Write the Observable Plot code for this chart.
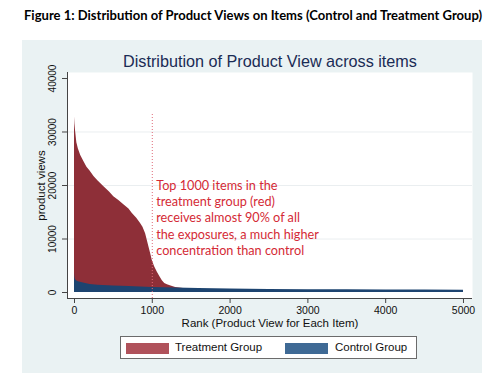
<!DOCTYPE html>
<html>
<head>
<meta charset="utf-8">
<script src="https://cdn.jsdelivr.net/npm/d3@7"></script>
<script src="https://cdn.jsdelivr.net/npm/@observablehq/plot@0.6"></script>
<style>
  body { margin: 0; background: #ffffff; }
  #wrap { position: relative; width: 499px; height: 385px; overflow: hidden; }
  #figtitle { position: absolute; left: 0; top: 0; }
  #panel { position: absolute; left: 22px; top: 40px; width: 460px; height: 333px; background: #eaf2f3; }
  #chart { position: absolute; left: 0; top: 0; }
  #legend { position: absolute; left: 98px; top: 296px; width: 297px; height: 23px; background: #ffffff;
            border: 1px solid #6b6b6b; box-sizing: border-box; font-family: "Liberation Sans", Arial, sans-serif; font-size: 11.5px; color: #111; }
  .sw { position: absolute; top: 6px; width: 43px; height: 11px; }
  .lt { position: absolute; top: 3px; line-height: 15px; white-space: nowrap; }
</style>
</head>
<body>
<div id="wrap">
  <svg id="figtitle" width="499" height="30">
    <text x="24" y="20" textLength="458" lengthAdjust="spacingAndGlyphs"
      style="font-family: Lato, 'Open Sans', sans-serif; font-weight: 700; font-size: 13.5px; fill: #000;">Figure 1: Distribution of Product Views on Items (Control and Treatment Group)</text>
  </svg>
  <div id="panel">
    <div id="chart"></div>
    <div id="legend">
      <div class="sw" style="left:5px;background:#b0525b"></div>
      <div class="lt" style="left:54px">Treatment Group</div>
      <div class="sw" style="left:164px;background:#3f6a95"></div>
      <div class="lt" style="left:214px">Control Group</div>
    </div>
  </div>
</div>
<script>
// Data
const treatRanks = [0, 5, 15, 30, 50, 80, 120, 160, 200, 250, 300, 375, 450, 505, 570, 634, 700, 741, 800, 849, 880, 914, 940, 957, 980, 1000, 1030, 1065, 1100, 1129, 1160, 1194, 1250, 1300, 1400, 1500, 1700, 2000, 3000, 4000, 5000];
const treatViews = [32800, 31500, 30000, 28000, 26800, 25600, 24500, 23400, 22700, 21700, 20900, 19800, 18800, 17900, 17200, 16400, 15600, 14800, 13900, 12900, 12200, 11000, 9500, 8500, 7200, 6000, 4800, 3800, 2900, 2200, 1700, 1450, 1150, 950, 750, 600, 480, 400, 320, 280, 250];
const ctrlRanks = [0, 3, 10, 25, 50, 100, 200, 300, 500, 700, 1000, 1300, 1600, 2000, 2500, 3000, 3500, 4000, 4500, 5000];
const ctrlViews = [3600, 3000, 2500, 2200, 2000, 1800, 1500, 1350, 1200, 1100, 950, 850, 750, 650, 580, 530, 500, 470, 450, 430];
const xTicks = [0, 1000, 2000, 3000, 4000, 5000];
const yTicks = [0, 10000, 20000, 30000, 40000];
const gridValues = [10000, 20000, 30000];
const cutoffRank = 1000;
const cutoffTop = 33500;
const chartTitle = "Distribution of Product View across items";
const xLabel = "Rank (Product View for Each Item)";
const yLabel = "product views";
const note = "Top 1000 items in the\ntreatment group (red)\nreceives almost 90% of all\nthe exposures, a much higher\nconcentration than control";

const treat = treatRanks.map((r, i) => ({rank: r, views: treatViews[i]}));
const ctrl = ctrlRanks.map((r, i) => ({rank: r, views: ctrlViews[i]}));

const xDom = [-90, 5116];
const yDom = [-1121, 41121];
const sans = "'Liberation Sans', Arial, Helvetica, sans-serif";

const chart = Plot.plot({
  width: 460,
  height: 290,
  marginLeft: 45,
  marginRight: 10,
  marginTop: 32,
  marginBottom: 32,
  style: {background: "transparent", fontFamily: sans, color: "#222", overflow: "visible"},
  x: {domain: xDom},
  y: {domain: yDom},
  marks: [
    Plot.frame({fill: "#ffffff", stroke: null}),
    Plot.ruleY(gridValues, {stroke: "#eaeef0", strokeWidth: 1}),
    Plot.areaY(treat, {x: "rank", y: "views", fill: "#8e2f38"}),
    Plot.areaY(ctrl, {x: "rank", y: "views", fill: "#1d4470"}),
    Plot.ruleX([cutoffRank], {y1: yDom[0], y2: cutoffTop, stroke: "#e06a78", strokeWidth: 1, strokeDasharray: "1,2"}),
    Plot.text([note], {x: 1050, y: 14075, text: d => d, textAnchor: "start", lineAnchor: "middle", lineHeight: 1.28,
      fill: "#d42a36", fontSize: 12.7, fontFamily: "Lato, 'Open Sans', sans-serif"}),
    Plot.ruleX([xDom[0]], {stroke: "#444"}),
    Plot.ruleY([yDom[0]], {stroke: "#444"}),
    Plot.axisX({ticks: xTicks, tickSize: 5, tickPadding: 3, tickFormat: d => String(d), fontSize: 10.5, fontFamily: sans, label: null, stroke: "#444", fill: "#111"}),
    Plot.axisY({ticks: yTicks, tickSize: 5, tickFormat: () => "", label: null, stroke: "#444"}),
    Plot.text(yTicks, {x: xDom[0], y: d => d, text: d => String(d), rotate: -90, dx: -15, textAnchor: "middle", lineAnchor: "middle", fontSize: 10, fontFamily: sans, fill: "#111"}),
    Plot.text([xLabel], {frameAnchor: "bottom", text: d => d, dy: 25, lineAnchor: "middle", fontSize: 11.5, fontFamily: sans, fill: "#111"}),
    Plot.text([yLabel], {frameAnchor: "left", text: d => d, dx: -26, rotate: -90, textAnchor: "middle", lineAnchor: "middle", fontSize: 11.5, fontFamily: sans, fill: "#111"}),
    Plot.text([chartTitle], {frameAnchor: "top", text: d => d, dy: -10.5, lineAnchor: "middle", fontSize: 16.2, fontFamily: sans, fill: "#1a2c55"})
  ]
});
document.getElementById("chart").appendChild(chart);
</script>
</body>
</html>
